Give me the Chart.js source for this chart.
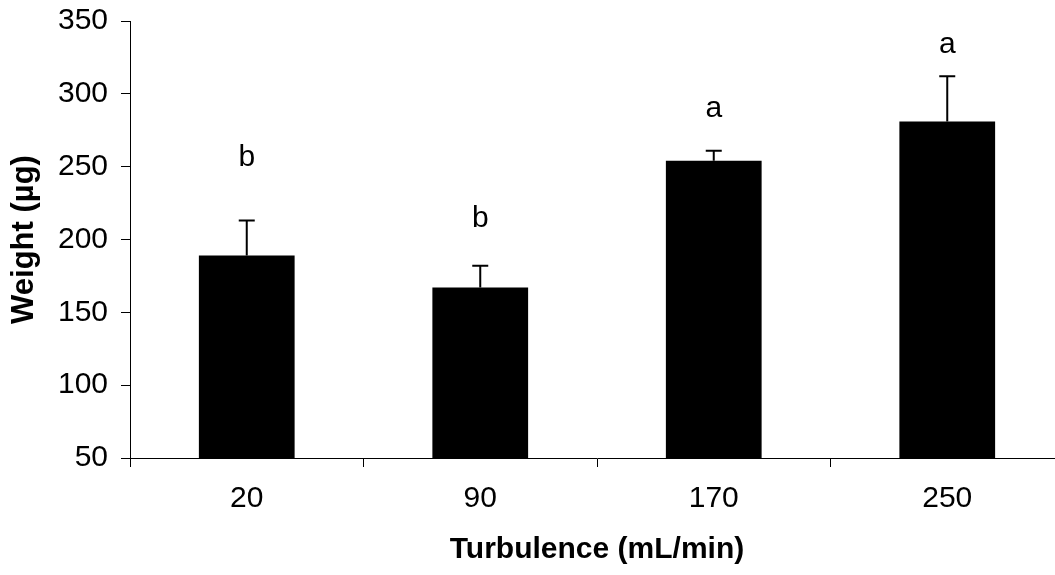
<!DOCTYPE html>
<html>
<head>
<meta charset="utf-8">
<script src="https://cdn.jsdelivr.net/npm/chart.js@4"></script>
<style>
  html, body { margin: 0; padding: 0; overflow: hidden; background: #fff; }
  #wrap { width: 1064px; height: 575px; position: relative; }
</style>
</head>
<body>
<div id="wrap"><canvas id="chart"></canvas></div>
<script>
// data
const categories = ["20", "90", "170", "250"];
const weights = [189, 167, 254, 281];
const errors = [24, 15, 7, 31];
const letters = ["b", "b", "a", "a"];
const letterPos = [256, 214, 290, 334]; // y in data units (µg)

const FONT = "'Liberation Sans', Arial, sans-serif";

// upper error bars with caps, plus significance letters
const extras = {
  id: "extras",
  afterDatasetsDraw(chart) {
    const ctx = chart.ctx;
    const yScale = chart.scales.y;
    const bars = chart.getDatasetMeta(0).data;
    ctx.save();
    ctx.strokeStyle = "#000";
    ctx.lineWidth = 2;
    bars.forEach((bar, i) => {
      const yTop = yScale.getPixelForValue(weights[i] + errors[i]);
      ctx.beginPath();
      ctx.moveTo(bar.x, bar.y);
      ctx.lineTo(bar.x, yTop);
      ctx.moveTo(bar.x - 8, yTop);
      ctx.lineTo(bar.x + 8, yTop);
      ctx.stroke();
    });
    ctx.fillStyle = "#000";
    ctx.font = "30px " + FONT;
    ctx.textAlign = "center";
    ctx.textBaseline = "middle";
    bars.forEach((bar, i) => {
      ctx.fillText(letters[i], bar.x, yScale.getPixelForValue(letterPos[i]));
    });
    ctx.restore();
  }
};

new Chart(document.getElementById("chart"), {
  type: "bar",
  data: {
    labels: categories,
    datasets: [{
      data: weights,
      backgroundColor: "#000",
      borderWidth: 0,
      barPercentage: 0.41,
      categoryPercentage: 1
    }]
  },
  options: {
    responsive: true,
    maintainAspectRatio: false,
    animation: false,
    layout: { padding: { top: 21, left: 0, right: 0, bottom: 0 } },
    plugins: {
      legend: { display: false },
      tooltip: { enabled: false }
    },
    scales: {
      x: {
        grid: { offset: true, drawOnChartArea: false, tickLength: 9, color: "#000" },
        border: { color: "#000", width: 1 },
        ticks: { color: "#000", padding: 14, font: { family: FONT, size: 30 } },
        title: {
          display: true,
          text: "Turbulence (mL/min)",
          color: "#000",
          font: { family: FONT, size: 30, weight: "bold" },
          padding: { top: 0, bottom: 7 }
        },
        afterFit(scale) { scale.height = 117; }
      },
      y: {
        min: 50,
        max: 350,
        grid: { drawOnChartArea: false, tickLength: 9, color: "#000" },
        border: { color: "#000", width: 1 },
        ticks: { stepSize: 50, color: "#000", padding: 13, font: { family: FONT, size: 30 } },
        title: {
          display: true,
          text: "Weight (µg)",
          color: "#000",
          font: { family: FONT, size: 31, weight: "bold" },
          padding: { top: 6, bottom: 0 }
        },
        afterFit(scale) {
          scale.width = 130;
          scale.paddingTop = 0;
          scale.paddingBottom = 0;
        }
      }
    }
  },
  plugins: [extras]
});
</script>
</body>
</html>
